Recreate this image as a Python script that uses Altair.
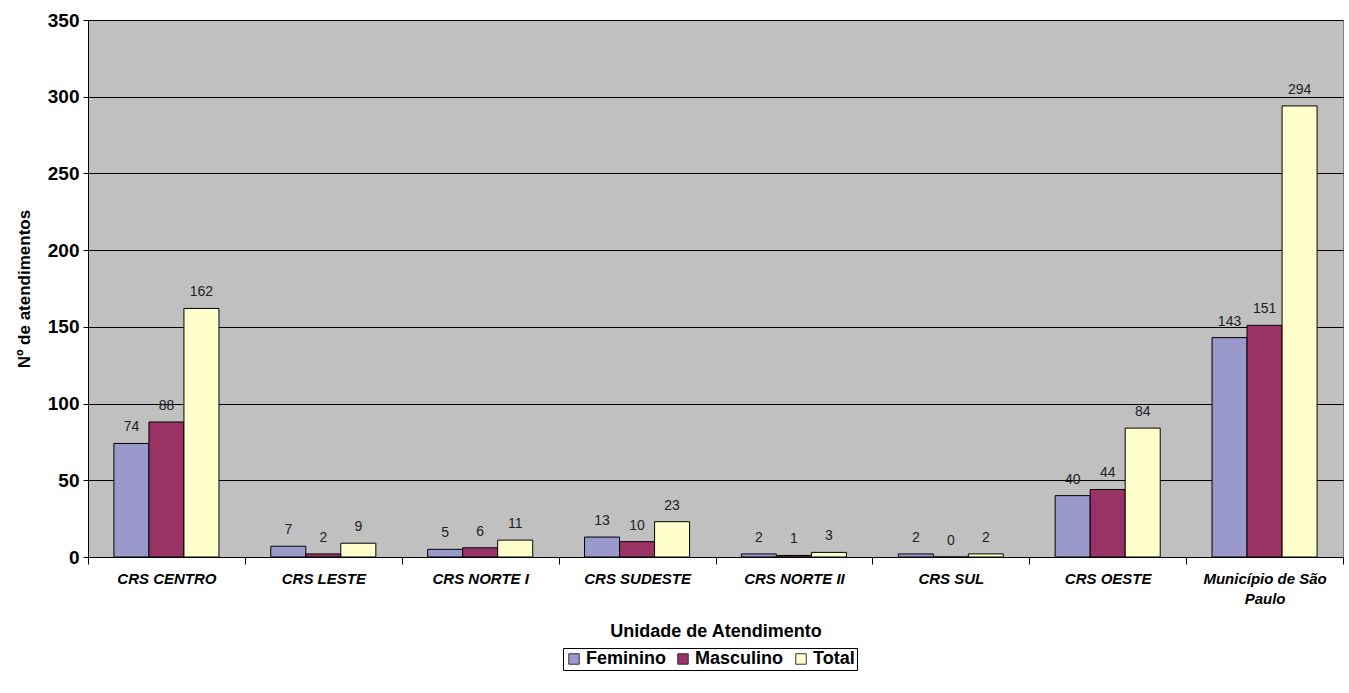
import altair as alt
import pandas as pd

# Atendimentos por unidade e sexo
unidades = ["CRS CENTRO", "CRS LESTE", "CRS NORTE I", "CRS SUDESTE",
            "CRS NORTE II", "CRS SUL", "CRS OESTE", "Município de São Paulo"]
feminino = [74, 7, 5, 13, 2, 2, 40, 143]
masculino = [88, 2, 6, 10, 1, 0, 44, 151]
total = [162, 9, 11, 23, 3, 2, 84, 294]
series = ["Feminino", "Masculino", "Total"]
cores = ["#9999CC", "#993366", "#FFFFCC"]

rows = []
for i, u in enumerate(unidades):
    for s, vals in zip(series, [feminino, masculino, total]):
        rows.append({"Unidade": u, "Sexo": s, "Valor": vals[i]})
df = pd.DataFrame(rows)

FONT = "Liberation Sans"

x_enc = alt.X(
    "Unidade:N", sort=unidades,
    scale=alt.Scale(paddingInner=0, paddingOuter=0),
    axis=alt.Axis(
        title="Unidade de Atendimento", titleFontSize=18, titleFontWeight="bold",
        titleFont=FONT, titleColor="black", titlePadding=16,
        labelFont=FONT, labelFontSize=15, labelFontWeight="bold",
        labelFontStyle="italic", labelColor="black", labelAngle=0,
        labelPadding=7, labelLineHeight=20,
        labelExpr="datum.label == 'Município de São Paulo' ? ['Município de São', 'Paulo'] : datum.label",
        tickBand="extent", tickSize=7, tickColor="black",
        domainColor="black", grid=False,
    ),
)
xo_enc = alt.XOffset("Sexo:N", sort=series,
                     scale=alt.Scale(paddingInner=0, paddingOuter=0.74))
y_enc = alt.Y(
    "Valor:Q",
    scale=alt.Scale(domain=[0, 350]),
    axis=alt.Axis(
        title="Nº de atendimentos", titleFontSize=17, titleFontWeight="bold",
        titleFont=FONT, titleColor="black", titlePadding=14,
        labelFont=FONT, labelFontSize=19, labelFontWeight="bold", labelColor="black",
        values=[0, 50, 100, 150, 200, 250, 300, 350],
        tickSize=5, tickColor="black", labelPadding=4,
        gridColor="black", gridWidth=1, domainColor="black",
    ),
)

color_enc = alt.Color(
    "Sexo:N", sort=series,
    scale=alt.Scale(domain=series, range=cores),
    legend=alt.Legend(
        title=None, orient="none", direction="horizontal",
        legendX=475, legendY=628,
        symbolType="square", symbolSize=110, symbolStrokeColor="#333333",
        symbolStrokeWidth=1,
        labelFont=FONT, labelFontSize=18, labelFontWeight="bold", labelColor="black",
        columnPadding=8, labelOffset=3,
        strokeColor="black", padding=2,
    ),
)

bars = alt.Chart(df).mark_bar(stroke="black", strokeWidth=1).encode(
    x=x_enc, xOffset=xo_enc, y=y_enc, color=color_enc
)

labels = alt.Chart(df).mark_text(
    dy=-16, font=FONT, fontSize=14, color="#222222"
).encode(
    x=alt.X("Unidade:N", sort=unidades),
    xOffset=alt.XOffset("Sexo:N", sort=series),
    y="Valor:Q",
    text="Valor:Q",
)

chart = (bars + labels).properties(
    width=1255, height=537,
    padding={"left": 88, "top": 20, "right": 6, "bottom": 136},
    autosize=alt.AutoSizeParams(type="none"),
    background="white",
).configure_view(
    fill="#C0C0C0", stroke="#808080", strokeWidth=1
)

chart.save("out.html", embed_options={"renderer": "svg", "actions": False})
